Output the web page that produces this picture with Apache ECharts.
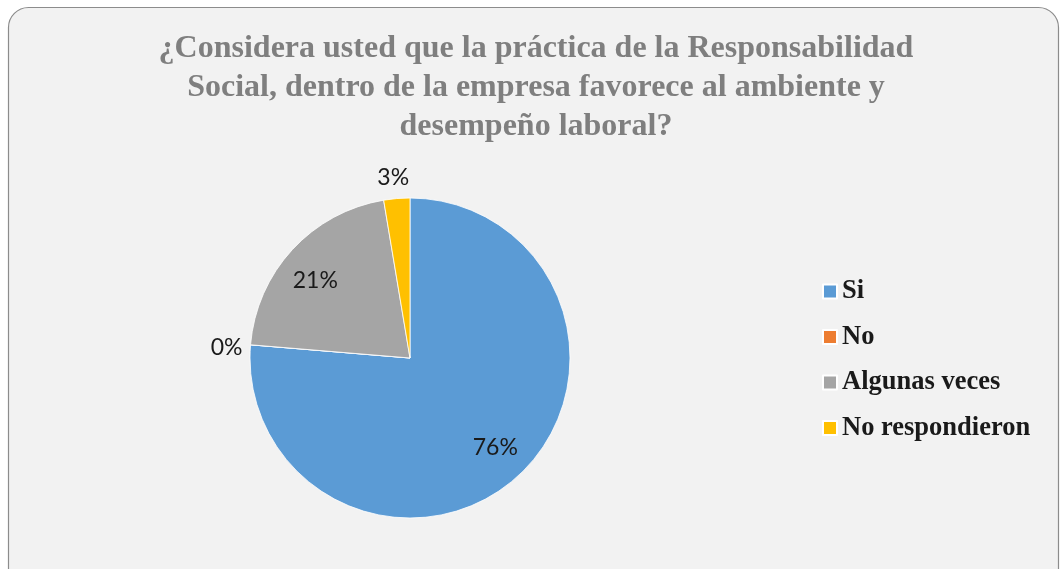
<!DOCTYPE html>
<html>
<head>
<meta charset="utf-8">
<script src="https://cdn.jsdelivr.net/npm/echarts@6/dist/echarts.min.js"></script>
<style>
html,body{margin:0;padding:0;background:#ffffff;}
#chart{width:1061px;height:569px;}
</style>
</head>
<body>
<div id="chart"></div>
<script>
const titleText = '¿Considera usted que la práctica de la Responsabilidad\nSocial, dentro de la empresa favorece al ambiente y\ndesempeño laboral?';
const categories = ['Si', 'No', 'Algunas veces', 'No respondieron'];
const counts = [29, 0, 8, 1];
const colors = ['#5b9bd5', '#ed7d31', '#a5a5a5', '#ffc000'];

const total = counts.reduce((a, b) => a + b, 0);
const pctLabel = p => Math.round(p.value / total * 100) + '%';

const labelFont = { fontFamily: 'Lato', fontSize: 23, color: '#1a1a1a' };
const labelConfs = [
  { show: true, position: 'inside', offset: [0, -3] },
  { show: true, position: 'outside', offset: [-3, 3] },
  { show: true, position: 'inside', offset: [-2, 8] },
  { show: true, position: 'outside', offset: [19, -1] }
];
const lineConfs = [
  { show: false },
  { show: false, length: 0, length2: 0 },
  { show: false },
  { show: false, length: 20, length2: 0 }
];

const chart = echarts.init(document.getElementById('chart'), null, { renderer: 'canvas' });
chart.setOption({
  backgroundColor: 'transparent',
  animation: false,
  graphic: [{
    type: 'rect',
    z: -10,
    shape: { x: 8.5, y: 7.5, width: 1050, height: 600, r: 20 },
    style: { fill: '#f2f2f2', stroke: '#8c8c8c', lineWidth: 1.2 }
  }],
  title: {
    text: titleText,
    left: 531,
    top: 24,
    textAlign: 'center',
    textStyle: {
      fontFamily: 'Liberation Serif',
      fontWeight: 'bold',
      fontSize: 32,
      lineHeight: 39,
      color: '#7f7f7f'
    }
  },
  legend: {
    orient: 'vertical',
    left: 817,
    top: 273,
    icon: 'rect',
    itemWidth: 14,
    itemHeight: 14,
    itemGap: 18.5,
    data: categories,
    textStyle: {
      fontFamily: 'Liberation Serif',
      fontWeight: 'bold',
      fontSize: 26.5,
      color: '#1a1a1a'
    }
  },
  series: [
    {
      name: 'main',
      type: 'pie',
      center: [410, 358],
      radius: [0, 160],
      startAngle: 90,
      clockwise: true,
      avoidLabelOverlap: false,
      label: { show: false },
      labelLine: { show: false },
      itemStyle: { borderColor: '#ffffff', borderWidth: 0.8 },
      emphasis: { disabled: true },
      data: categories.map((c, i) => ({ name: c, value: counts[i], itemStyle: { color: colors[i] } }))
    },
    {
      name: 'labels',
      type: 'pie',
      center: [410, 358],
      radius: [86, 160],
      startAngle: 90,
      clockwise: true,
      silent: true,
      avoidLabelOverlap: false,
      stillShowZeroSum: true,
      emphasis: { disabled: true },
      itemStyle: { color: 'rgba(0,0,0,0)', borderWidth: 0 },
      label: Object.assign({ formatter: pctLabel }, labelFont),
      data: categories.map((c, i) => ({
        name: c,
        value: counts[i],
        label: Object.assign({}, labelConfs[i], labelFont, { formatter: pctLabel }),
        labelLine: lineConfs[i]
      }))
    }
  ]
});
</script>
</body>
</html>
